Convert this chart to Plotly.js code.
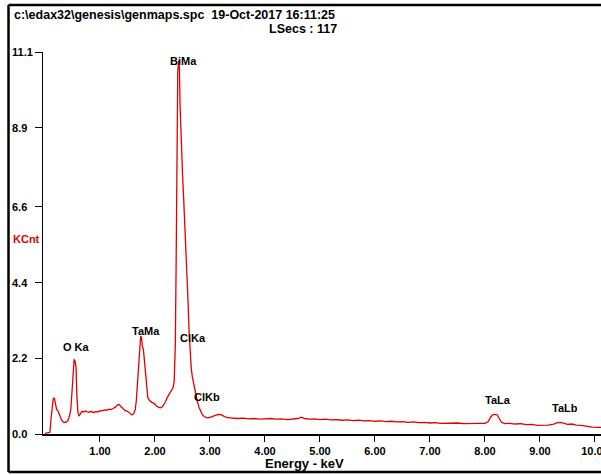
<!DOCTYPE html>
<html>
<head>
<meta charset="utf-8">
<script src="https://cdn.plot.ly/plotly-3.0.1.min.js"></script>
<style>html,body{margin:0;padding:0;background:#fff;}#chart{width:601px;height:475px;}</style>
</head>
<body>
<div id="chart"></div>
<script>
// Spectrum data (keV, KCnt)
const energy = [0.00,0.03,0.06,0.09,0.11,0.13,0.15,0.17,0.19,0.21,0.24,0.27,0.30,0.33,0.36,0.39,0.42,0.45,0.47,0.49,0.51,0.53,0.55,0.565,0.58,0.60,0.62,0.64,0.67,0.70,0.73,0.76,0.80,0.84,0.88,0.92,0.96,1.00,1.04,1.08,1.12,1.16,1.20,1.24,1.28,1.32,1.35,1.38,1.42,1.46,1.50,1.54,1.58,1.61,1.64,1.66,1.68,1.70,1.72,1.74,1.755,1.77,1.79,1.81,1.83,1.85,1.87,1.90,1.94,1.98,2.02,2.06,2.10,2.14,2.18,2.22,2.26,2.30,2.33,2.35,2.37,2.385,2.395,2.405,2.414,2.43,2.445,2.455,2.47,2.48,2.50,2.52,2.54,2.56,2.58,2.60,2.62,2.64,2.66,2.68,2.71,2.74,2.77,2.80,2.83,2.86,2.90,2.95,3.00,3.05,3.10,3.15,3.20,3.25,3.30,3.36,3.42,3.50,3.60,3.70,3.80,3.90,4.00,4.10,4.20,4.30,4.40,4.50,4.60,4.66,4.72,4.80,4.90,5.00,5.10,5.20,5.30,5.40,5.50,5.60,5.70,5.80,5.90,6.00,6.10,6.20,6.30,6.40,6.50,6.60,6.70,6.80,6.90,7.00,7.10,7.20,7.30,7.40,7.50,7.60,7.70,7.80,7.90,8.00,8.06,8.10,8.14,8.18,8.22,8.26,8.30,8.36,8.45,8.55,8.65,8.75,8.85,8.95,9.05,9.15,9.25,9.32,9.38,9.44,9.50,9.58,9.66,9.75,9.85,9.95,10.05,10.12];
const kcnt = [0.02,0.03,0.04,0.05,0.45,0.80,1.02,1.05,0.82,0.72,0.66,0.52,0.41,0.35,0.33,0.35,0.40,0.55,0.72,1.20,1.65,2.17,2.10,1.92,1.10,0.62,0.52,0.58,0.66,0.64,0.67,0.65,0.63,0.66,0.62,0.65,0.64,0.68,0.67,0.70,0.69,0.72,0.71,0.74,0.78,0.85,0.86,0.80,0.73,0.68,0.66,0.60,0.56,0.58,0.70,0.95,1.45,2.05,2.55,2.85,2.80,2.55,2.45,2.10,1.60,1.25,1.05,0.98,0.92,0.90,0.82,0.78,0.76,0.80,0.90,1.05,1.15,1.28,1.35,1.55,2.60,5.00,7.30,8.60,10.50,10.85,10.60,9.60,8.80,8.20,7.60,6.90,6.20,5.60,4.80,3.90,3.00,2.30,1.90,1.65,1.40,1.15,0.95,0.78,0.65,0.56,0.50,0.47,0.48,0.50,0.54,0.57,0.56,0.52,0.48,0.47,0.46,0.45,0.46,0.44,0.45,0.43,0.44,0.45,0.43,0.44,0.42,0.44,0.45,0.49,0.45,0.43,0.44,0.42,0.43,0.41,0.42,0.40,0.41,0.39,0.40,0.38,0.39,0.37,0.38,0.36,0.37,0.35,0.36,0.34,0.35,0.33,0.34,0.32,0.33,0.31,0.32,0.31,0.32,0.30,0.31,0.30,0.31,0.31,0.36,0.48,0.56,0.57,0.56,0.45,0.34,0.30,0.31,0.29,0.30,0.27,0.28,0.25,0.25,0.26,0.29,0.33,0.34,0.31,0.28,0.29,0.26,0.25,0.22,0.20,0.19,0.19];

// Peak labels
const peakNames = ["O Ka","TaMa","BiMa","ClKa","ClKb","TaLa","TaLb"];
const peakEnergy = [0.58,1.84,2.51,2.69,2.95,8.24,9.45];
const peakLabelY = [2.54,2.98,10.84,2.78,1.08,1.00,0.76];

// Axis ticks
const xTickVals = [1,2,3,4,5,6,7,8,9,10];
const xTickText = ["1.00","2.00","3.00","4.00","5.00","6.00","7.00","8.00","9.00","10.00"];
const yTickVals = [0,2.2,4.4,6.6,8.9,11.1];
const yTickText = ["0.0","2.2","4.4","6.6","8.9","11.1"];

const headerLine1 = "c:\\edax32\\genesis\\genmaps.spc\u00a0\u00a019-Oct-2017 16:11:25";
const headerLine2 = "LSecs : 117";

const FONT = "Liberation Sans, Arial, sans-serif";
const bold = (size, color) => ({family: FONT, size: size, color: color || "#000", weight: 700});

const annotations = [];
peakNames.forEach((n, i) => annotations.push({
  x: peakEnergy[i], y: peakLabelY[i], xref: "x", yref: "y", text: n,
  showarrow: false, xanchor: "center", yanchor: "middle", font: bold(11)
}));
yTickVals.forEach((v, i) => annotations.push({
  x: -0.0591, y: v, xref: "paper", yref: "y", text: yTickText[i],
  showarrow: false, xanchor: "left", yanchor: "middle", font: bold(11)
}));
annotations.push({x: -0.0556, y: 1.097, xref: "paper", yref: "paper", text: headerLine1,
  showarrow: false, xanchor: "left", yanchor: "middle", font: bold(12.5)});
annotations.push({x: 0.5305, y: 1.060, xref: "paper", yref: "paper", text: headerLine2,
  showarrow: false, xanchor: "right", yanchor: "middle", font: bold(12.5)});
annotations.push({x: -0.0573, y: 0.510, xref: "paper", yref: "paper", text: "KCnt",
  showarrow: false, xanchor: "left", yanchor: "middle", font: bold(11, "#e00000")});
annotations.push({x: 0.4695, y: -0.0773, xref: "paper", yref: "paper", text: "Energy - keV",
  showarrow: false, xanchor: "center", yanchor: "middle", font: bold(13)});

const trace = {
  x: energy, y: kcnt, type: "scatter", mode: "lines",
  line: {color: "rgb(225,0,0)", width: 1.3},
  hoverinfo: "skip"
};

const layout = {
  width: 601, height: 475,
  margin: {l: 43, r: 0, t: 52, b: 41, pad: 0},
  paper_bgcolor: "#fff", plot_bgcolor: "#fff",
  showlegend: false,
  xaxis: {
    range: [-0.036, 10.11], showgrid: false, zeroline: false,
    showline: true, linecolor: "#000", linewidth: 1.5,
    ticks: "outside", ticklen: 6, tickwidth: 1, tickcolor: "#000",
    tickmode: "array", tickvals: xTickVals, ticktext: xTickText,
    ticklabeloverflow: "allow",
    tickfont: bold(11), fixedrange: true
  },
  yaxis: {
    range: [0, 11.1], showgrid: false, zeroline: false,
    showline: true, linecolor: "#000", linewidth: 1.5,
    ticks: "outside", ticklen: 7, tickwidth: 1, tickcolor: "#000",
    tickmode: "array", tickvals: yTickVals, showticklabels: false,
    fixedrange: true
  },
  annotations: annotations,
  shapes: [
    {type: "line", xref: "paper", yref: "paper", x0: -0.0618, x1: -0.0618, y0: 1.123, y1: -0.0995, line: {color: "#000", width: 2.5}},
    {type: "line", xref: "paper", yref: "paper", x0: -0.0618, x1: 1.0, y0: 1.123, y1: 1.123, line: {color: "#000", width: 2.5}},
    {type: "line", xref: "paper", yref: "paper", x0: -0.0618, x1: 1.0, y0: -0.0995, y1: -0.0995, line: {color: "#000", width: 2.5}}
  ]
};

Plotly.newPlot("chart", [trace], layout, {displayModeBar: false, staticPlot: true});
</script>
</body>
</html>
